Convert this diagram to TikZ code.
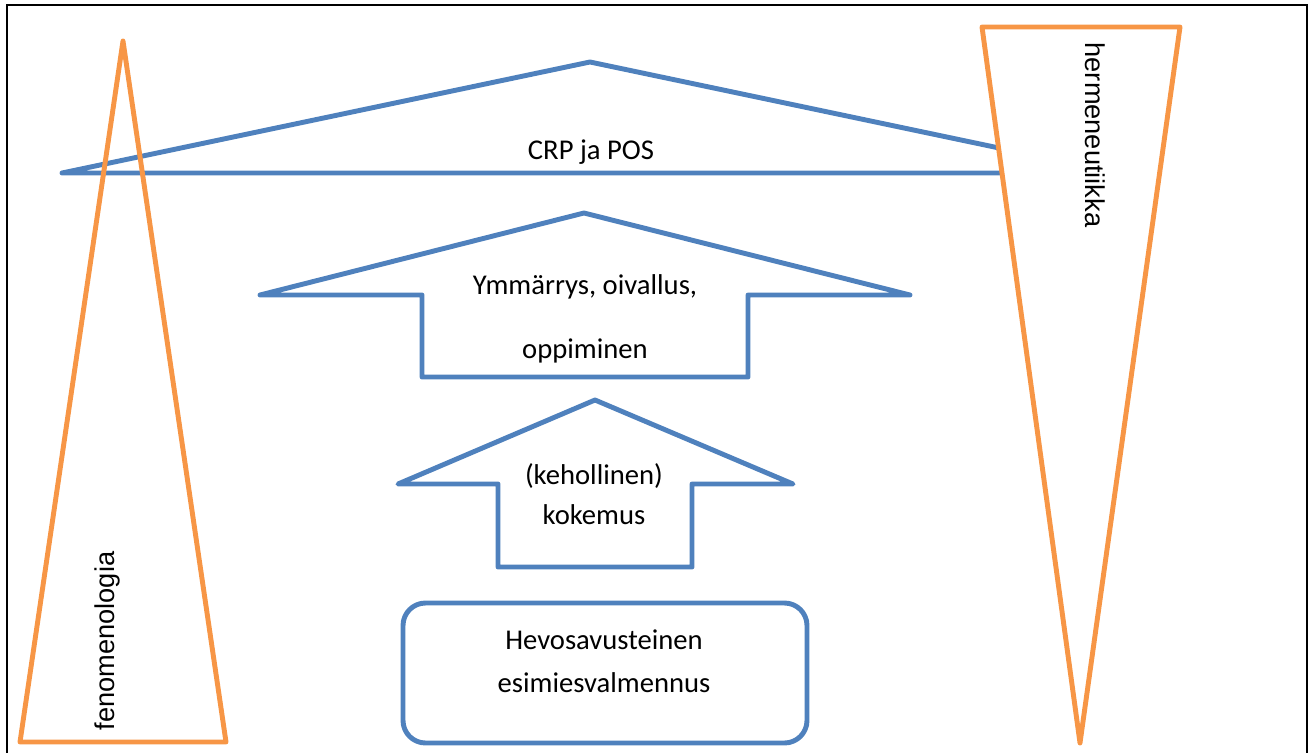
\documentclass[tikz,border=0pt]{standalone}
\usepackage{fontspec}
\setmainfont{Carlito}
\newfontfamily\sidefont{Liberation Sans}
\definecolor{accblue}{RGB}{79,129,189}
\definecolor{accorange}{RGB}{247,150,70}
\def\txtsize{\fontsize{16.3}{19}\selectfont}
\begin{document}
\begin{tikzpicture}[x=0.02cm, y=-0.02cm,
blueline/.style={draw=accblue, line width=2.8pt, line join=round},
orangeline/.style={draw=accorange, line width=2.8pt, line join=round},
txt/.style={inner sep=0pt, font=\txtsize, anchor=base},
sidetxt/.style={inner sep=0pt, font=\sidefont\fontsize{15.5}{18}\selectfont},
]

\useasboundingbox (0,0) rectangle (1314,753);

% Frame:
\draw[line width=0.6pt] (7,760) -- (7,5) -- (1307,5) -- (1307,760);

% Roof:
\draw[blueline] (62,173) -- (590,62) -- (1118,173) -- cycle;
\node[txt] at (591,160) (roof) {CRP ja POS};

% Upper arrow:
\draw[blueline, fill=white] (584,213) -- (910,295) -- (748,295) -- (748,377)
  -- (422,377) -- (422,295) -- (260,295) -- cycle;
\node[txt] at (585,294) (insight) {Ymmärrys, oivallus,};
\node[txt] at (585,358) (learning) {oppiminen};

% Lower arrow:
\draw[blueline, fill=white] (595,400) -- (793,484) -- (692,484) -- (692,567)
  -- (498,567) -- (498,484) -- (398,484) -- cycle;
\node[txt] at (594,484) (bodily) {(kehollinen)};
\node[txt] at (594,524) (experience) {kokemus};

% Box:
\draw[blueline, rounded corners=0.45cm, fill=white] (403,603) rectangle (807,743);
\node[txt] at (604,649) (coaching) {Hevosavusteinen};
\node[txt] at (604,692) (training) {esimiesvalmennus};

% Side triangles:
\draw[orangeline] (123,41) -- (226,742) -- (20,742) -- cycle;
\node[sidetxt, rotate=90] at (107,641) (phen) {fenomenologia};

\draw[orangeline, fill=white] (982,27) -- (1180,27) -- (1080,743) -- cycle;
\node[sidetxt, rotate=-90] at (1095,135) (herm) {hermeneutiikka};
\end{tikzpicture}
\end{document}
